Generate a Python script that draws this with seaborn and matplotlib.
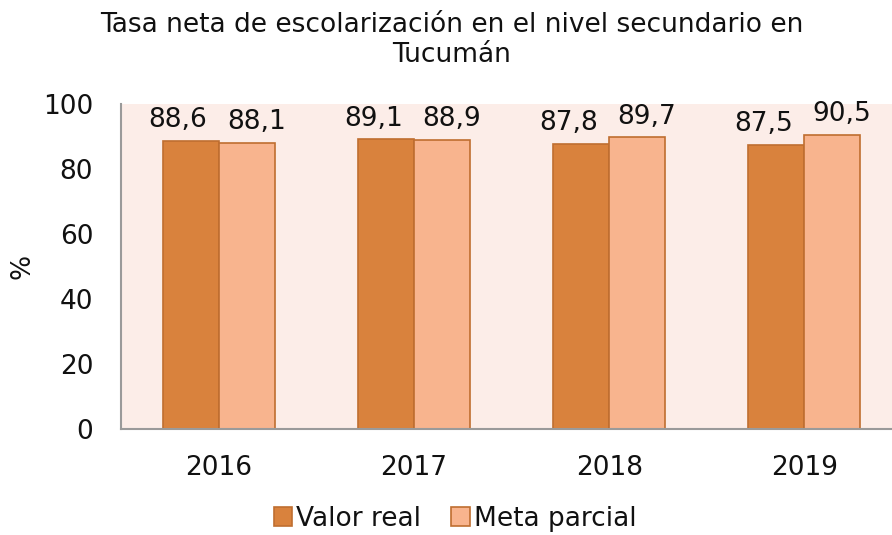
import os
import pandas as pd
import seaborn as sns
import matplotlib as mpl
import matplotlib.pyplot as plt
from matplotlib.font_manager import FontProperties
from matplotlib.text import Text

years = ['2016', '2017', '2018', '2019']
valor_real = [88.6, 89.1, 87.8, 87.5]
meta_parcial = [88.1, 88.9, 89.7, 90.5]
series = ['Valor real', 'Meta parcial']
colors = ['#d9823d', '#f8b48e']
edge = '#bf6e30'

df = pd.DataFrame({
    'year': years * 2,
    'value': valor_real + meta_parcial,
    'serie': [series[0]] * 4 + [series[1]] * 4,
})

sns.set_theme(style='white')
plt.rcParams['font.family'] = ['DejaVu Sans']
font_path = os.path.join(mpl.get_data_path(), 'fonts', 'ttf', 'DejaVuSans.ttf')

fig = plt.figure(figsize=(8.92, 5.35), dpi=100)
ax = fig.add_axes([121 / 892, 1 - 429 / 535, 781 / 892, 325 / 535])
ax.set_facecolor('#fcede8')

sns.barplot(data=df, x='year', y='value', hue='serie', palette=colors,
            saturation=1, width=0.574, edgecolor=edge, linewidth=1.2, ax=ax)

# labels pushed a bit outward so the pair doesn't collide (like Excel does)
shifts = [-9, 7]
for cont, dx in zip(ax.containers, shifts):
    anns = ax.bar_label(cont, labels=[f'{v:.1f}'.replace('.', ',') for v in cont.datavalues],
                        fontsize=19, color='#111111')
    for a in anns:
        a.xyann = (dx, 5.5)

ax.set_ylim(0, 100)
ax.set_yticks([0, 20, 40, 60, 80, 100])
ax.set_xlabel('')
ax.set_ylabel('%', fontsize=19, color='#111111')
ax.yaxis.set_label_coords(-0.11, 0.5)
ax.tick_params(axis='both', labelsize=19, length=0, colors='#111111')
ax.tick_params(axis='x', pad=19)
ax.tick_params(axis='y', pad=20)
for s in ['top', 'right']:
    ax.spines[s].set_visible(False)
for s in ['left', 'bottom']:
    ax.spines[s].set_color('#9a9a9a')
    ax.spines[s].set_linewidth(1.5)

fig.suptitle('Tasa neta de escolarización en el nivel secundario en\nTucumán',
             x=0.506, y=0.978, fontsize=19, color='#111111', linespacing=1.2)

handles, labels = ax.get_legend_handles_labels()
ax.legend(handles, labels, loc='center', bbox_to_anchor=(0.51, 0.03),
          bbox_transform=fig.transFigure, ncol=2, frameon=False, fontsize=19,
          labelcolor='#111111', handlelength=0.7, handleheight=0.7,
          handletextpad=0.15, columnspacing=1.15)

# pin every text to the regular DejaVu Sans file
for t in fig.findobj(Text):
    t.set_fontproperties(FontProperties(fname=font_path, size=t.get_fontsize()))

fig.savefig('out.png', dpi=100)
plt.close('all')
